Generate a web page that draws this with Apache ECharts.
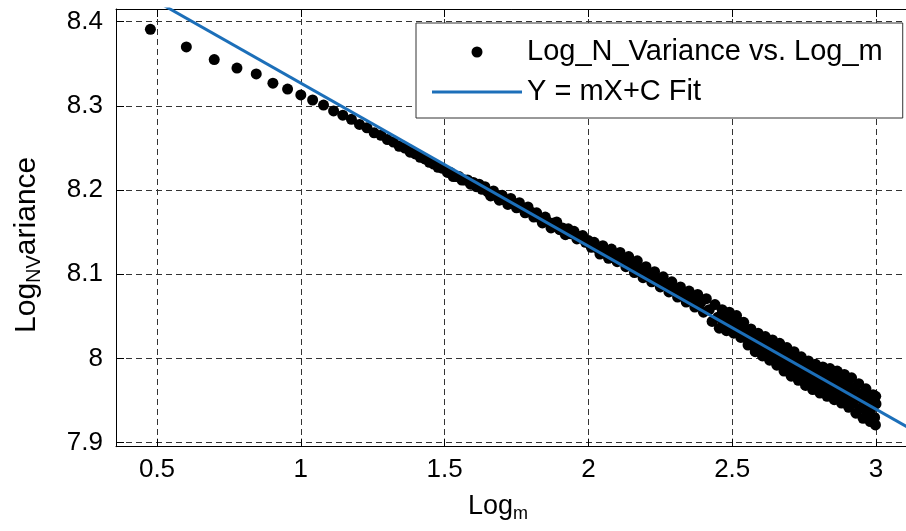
<!DOCTYPE html>
<html><head><meta charset="utf-8">
<script src="https://cdn.jsdelivr.net/npm/echarts@6/dist/echarts.min.js"></script>
<style>html,body{margin:0;padding:0;background:#fff}#c{width:906px;height:531px}</style>
</head><body><div id="c"></div>
<script>
// ---- data ----
const seriesNames = ['Log_N_Variance vs. Log_m', 'Y = mX+C Fit'];
// individual points (log10 m, m = 3..31)
const smallX = [0.477,0.602,0.699,0.778,0.845,0.903,0.954,1.000,1.041,1.079,1.114,1.146,1.176,1.204,1.230,1.255,1.279,1.301,1.322,1.342,1.362,1.380,1.398,1.415,1.431,1.447,1.462,1.477,1.491];
const smallY = [8.391,8.370,8.355,8.345,8.338,8.327,8.320,8.313,8.307,8.301,8.294,8.289,8.284,8.278,8.274,8.268,8.265,8.260,8.257,8.252,8.250,8.245,8.243,8.239,8.237,8.233,8.231,8.227,8.226];
// thin band 1.5 .. 2.0
const midX = [1.51,1.52,1.53,1.54,1.55,1.56,1.57,1.58,1.59,1.60,1.61,1.62,1.63,1.64,1.65,1.66,1.67,1.68,1.69,1.70,1.71,1.72,1.73,1.74,1.75,1.76,1.77,1.78,1.79,1.80,1.81,1.82,1.83,1.84,1.85,1.86,1.87,1.88,1.89,1.90,1.91,1.92,1.93,1.94,1.95,1.96,1.97,1.98,1.99,2.00];
const midY = [8.221,8.221,8.216,8.216,8.216,8.212,8.212,8.212,8.207,8.209,8.204,8.207,8.201,8.204,8.198,8.193,8.199,8.193,8.188,8.194,8.188,8.183,8.190,8.184,8.179,8.185,8.179,8.173,8.180,8.174,8.168,8.173,8.167,8.161,8.168,8.162,8.155,8.161,8.162,8.153,8.155,8.147,8.154,8.148,8.151,8.142,8.145,8.146,8.138,8.140];
// band 2.0 .. 2.45
const band1X = [2.01,2.02,2.03,2.04,2.05,2.06,2.07,2.08,2.09,2.10,2.11,2.12,2.13,2.14,2.15,2.16,2.17,2.18,2.19,2.20,2.21,2.22,2.23,2.24,2.25,2.26,2.27,2.28,2.29,2.30,2.31,2.32,2.33,2.34,2.35,2.36,2.37,2.38,2.39,2.40,2.41,2.42,2.43,2.44,2.45];
const band1Y = [8.132,8.138,8.131,8.124,8.134,8.127,8.119,8.130,8.122,8.115,8.126,8.118,8.109,8.121,8.112,8.102,8.116,8.106,8.096,8.109,8.100,8.091,8.103,8.094,8.085,8.097,8.088,8.079,8.091,8.082,8.073,8.085,8.076,8.067,8.080,8.071,8.061,8.076,8.066,8.055,8.071,8.058,8.044,8.064,8.049];
// wide band 2.45 .. 3.0
const band2X = [2.455,2.46,2.465,2.47,2.475,2.48,2.485,2.49,2.495,2.5,2.505,2.51,2.515,2.52,2.525,2.53,2.535,2.54,2.545,2.55,2.555,2.56,2.565,2.57,2.575,2.58,2.585,2.59,2.595,2.6,2.605,2.61,2.615,2.62,2.625,2.63,2.635,2.64,2.645,2.65,2.655,2.66,2.665,2.67,2.675,2.68,2.685,2.69,2.695,2.7,2.705,2.71,2.715,2.72,2.725,2.73,2.735,2.74,2.745,2.75,2.755,2.76,2.765,2.77,2.775,2.78,2.785,2.79,2.795,2.8,2.805,2.81,2.815,2.82,2.825,2.83,2.835,2.84,2.845,2.85,2.855,2.86,2.865,2.87,2.875,2.88,2.885,2.89,2.895,2.9,2.905,2.91,2.915,2.92,2.925,2.93,2.935,2.94,2.945,2.95,2.955,2.96,2.965,2.97,2.975,2.98,2.985,2.99,2.995,3.0,2.998,2.999];
const band2Y = [8.036,8.048,8.058,8.040,8.051,8.033,8.044,8.055,8.037,8.047,
8.030,8.040,8.051,8.034,8.043,8.025,8.034,8.043,8.025,8.034,
8.016,8.025,8.035,8.016,8.026,8.008,8.019,8.030,8.011,8.022,
8.003,8.015,8.026,8.007,8.018,7.998,8.010,8.022,8.001,8.013,
7.992,8.004,8.018,7.995,8.009,7.985,7.999,8.013,7.989,8.004,
7.979,7.994,8.008,7.984,7.998,7.974,7.988,8.002,7.978,7.992,
7.968,7.982,7.997,7.972,7.987,7.963,7.977,7.993,7.968,7.984,
7.959,7.974,7.990,7.965,7.981,7.955,7.971,7.988,7.962,7.978,
7.951,7.968,7.985,7.957,7.974,7.947,7.964,7.981,7.953,7.970,
7.942,7.959,7.977,7.947,7.965,7.935,7.953,7.970,7.941,7.958,
7.929,7.946,7.964,7.935,7.952,7.925,7.941,7.957,7.930,7.946,
7.921,7.955];
// fitted line end points
const fitX = [0.36, 3.2];
const fitY = [8.451, 7.901];
// axes
const xRange = [0.3574, 3.1703];
const yRange = [7.8952, 8.4151];
const xStep = 0.5, yStep = 0.1;

// ---- chart ----
const FONT = '"Liberation Sans", Arial, sans-serif';
function pairs(xs, ys) { return xs.map((x, i) => [x, ys[i]]); }
const scatterData = [].concat(pairs(smallX, smallY), pairs(midX, midY), pairs(band1X, band1Y), pairs(band2X, band2Y));
const fitData = pairs(fitX, fitY);

const grid = { left: 116, top: 9, width: 809, height: 437.7, containLabel: false, outerBoundsMode: 'none' };
const gridLine = { show: true, lineStyle: { color: '#333', type: [6, 4], width: 1 } };
const axLine = { show: true, lineStyle: { color: '#000', width: 1 } };
const tick = { show: true, inside: true, length: 8, lineStyle: { color: '#000', width: 1 } };

const chart = echarts.init(document.getElementById('c'), null, { renderer: 'canvas' });
chart.setOption({
  animation: false,
  backgroundColor: '#fff',
  grid: grid,
  legend: {
    orient: 'vertical', left: 416, top: 23,
    padding: [14, 20, 11, 16],
    itemWidth: 90, itemHeight: 11, itemGap: 10,
    selectedMode: false,
    backgroundColor: '#fff', borderColor: '#333', borderWidth: 1,
    textStyle: { fontFamily: FONT, fontSize: 29, color: '#000', lineHeight: 30 },
    data: [{ name: seriesNames[0], icon: 'circle' },
           { name: seriesNames[1], icon: 'path://M0,0 L88,0 L88,3 L0,3 Z' }]
  },
  xAxis: [{
    type: 'value', position: 'bottom', min: xRange[0], max: xRange[1],
    minInterval: xStep, maxInterval: xStep,
    axisLine: axLine, axisTick: tick, splitLine: gridLine,
    axisLabel: { fontFamily: FONT, fontSize: 26, color: '#000', margin: 10, showMinLabel: false, showMaxLabel: false },
    name: '{a|Log}{s|m}', nameLocation: 'middle', nameGap: 44,
    nameTextStyle: { fontFamily: FONT, color: '#000', padding: [0, 45, 0, 0],
      rich: { a: { fontFamily: FONT, fontSize: 27, lineHeight: 32, color: '#000' },
              s: { fontFamily: FONT, fontSize: 18, lineHeight: 6, verticalAlign: 'bottom', color: '#000' } } }
  }, {
    type: 'value', position: 'top', min: xRange[0], max: xRange[1],
    minInterval: xStep, maxInterval: xStep,
    axisLine: axLine, axisTick: tick, splitLine: { show: false }, axisLabel: { show: false }
  }],
  yAxis: [{
    type: 'value', position: 'left', min: yRange[0], max: yRange[1],
    minInterval: yStep, maxInterval: yStep,
    axisLine: axLine, axisTick: tick, splitLine: gridLine,
    axisLabel: { fontFamily: FONT, fontSize: 26, color: '#000', margin: 13, showMinLabel: false, showMaxLabel: false },
    name: '{a|Log}{s|NV}{a|ariance}', nameLocation: 'middle', nameRotate: 90, nameGap: 72,
    nameTextStyle: { fontFamily: FONT, color: '#000', padding: [0, 34, 0, 0],
      rich: { a: { fontFamily: FONT, fontSize: 30, lineHeight: 34, color: '#000' },
              s: { fontFamily: FONT, fontSize: 20, lineHeight: 6, verticalAlign: 'bottom', color: '#000' } } }
  }],
  series: [{
    type: 'scatter', name: seriesNames[0], data: scatterData,
    symbol: 'circle', symbolSize: 11, itemStyle: { color: '#000', opacity: 1 },
    emphasis: { disabled: true }, large: false, z: 2
  }, {
    type: 'line', name: seriesNames[1], data: fitData,
    symbol: 'none', showSymbol: false, clip: true,
    lineStyle: { color: '#1c6fb9', width: 3 }, itemStyle: { color: '#1c6fb9' },
    emphasis: { disabled: true }, z: 3
  }]
});
</script></body></html>
